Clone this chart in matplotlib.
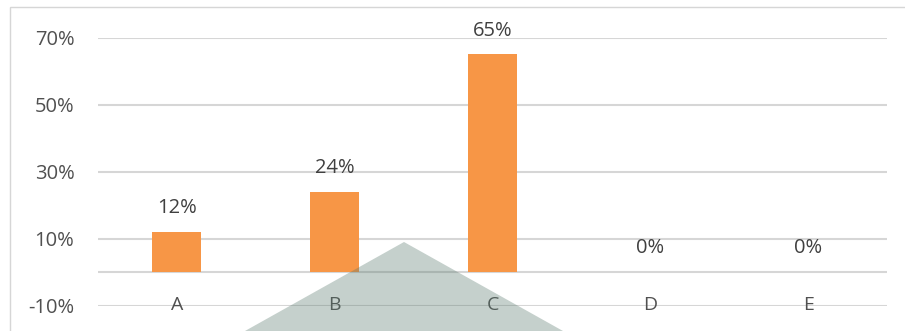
import matplotlib.pyplot as plt
from matplotlib.patches import Polygon, Rectangle
from matplotlib.ticker import PercentFormatter

# share of responses per option
categories = ['A', 'B', 'C', 'D', 'E']
shares = [0.12, 0.24, 0.65, 0.0, 0.0]
y_ticks = [-0.10, 0.10, 0.30, 0.50, 0.70]

bar_color = '#f79646'
grid_color = '#d6d6d6'
text_color = '#505050'

plt.rcParams['font.family'] = ['Open Sans', 'DejaVu Sans']
plt.rcParams['axes.unicode_minus'] = False

W, H = 905, 331
fig = plt.figure(figsize=(W / 100, H / 100), dpi=100)
fig.patch.set_facecolor('white')

# outer chart border
fig.patches.append(Rectangle((10 / W, -0.1), 1.2, 1 - 7 / H + 0.1,
                             transform=fig.transFigure, fill=False,
                             edgecolor=grid_color, linewidth=1.0))

left, right = 98 / W, 887 / W
bottom, top = 1 - 305.5 / H, 1 - 37.5 / H
ax = fig.add_axes([left, bottom, right - left, top - bottom])

x = range(len(categories))
ax.bar(x, shares, width=0.31, color=bar_color, zorder=2)

ax.set_xlim(-0.5, len(categories) - 0.5)
ax.set_ylim(-0.10, 0.70)
ax.set_yticks(y_ticks)
ax.yaxis.set_major_formatter(PercentFormatter(1.0, decimals=0))
ax.set_xticks([])
ax.tick_params(axis='y', length=0, pad=17, labelsize=14.5, labelcolor=text_color)
ax.grid(axis='y', color=grid_color, linewidth=1.5, zorder=0)
ax.axhline(0, color=grid_color, linewidth=1.5, zorder=1)
for s in ax.spines.values():
    s.set_visible(False)

# value labels above bars
for i, v in enumerate(shares):
    ax.annotate(f'{v:.0%}', (i, v), xytext=(0, 17), textcoords='offset points',
                ha='center', va='center', fontsize=14.5, color='#404040')

# category names sit on the bottom gridline
for i, c in enumerate(categories):
    ax.text(i, -0.10, c, ha='center', va='center', fontsize=14, color=text_color)

# grey triangle shape laid over the chart
tri = Polygon([(245 / W, 0), (404 / W, 1 - 242 / H), (563 / W, 0)],
              closed=True, transform=fig.transFigure,
              facecolor=(89 / 255, 121 / 255, 109 / 255), alpha=0.35,
              edgecolor='none')
fig.patches.append(tri)

fig.savefig('out.png', dpi=100)
